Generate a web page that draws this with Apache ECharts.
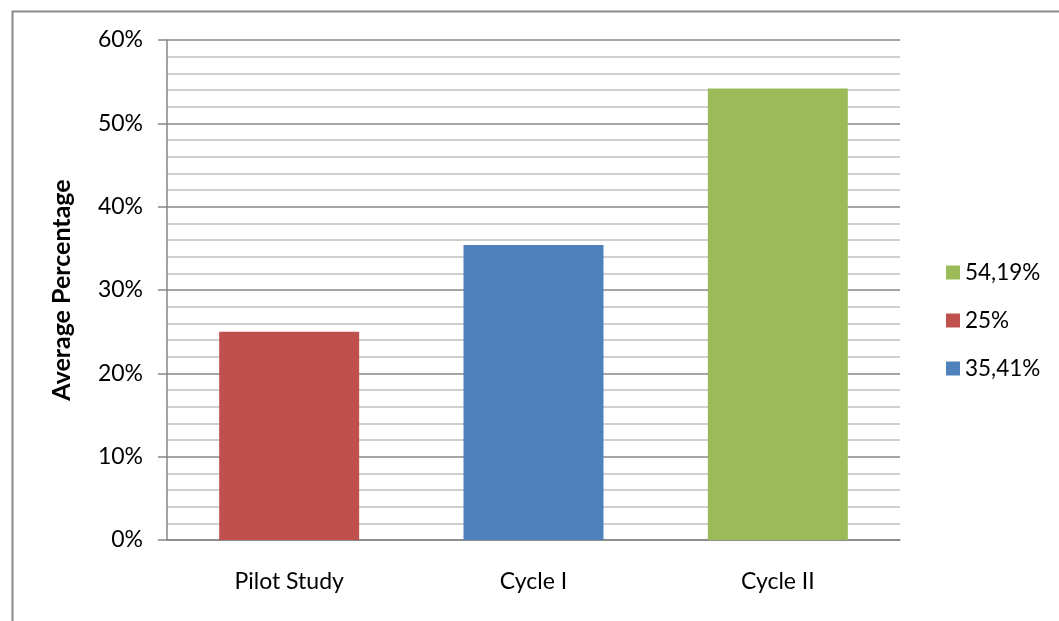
<!DOCTYPE html>
<html>
<head>
<meta charset="utf-8">
<script src="https://cdn.jsdelivr.net/npm/echarts@6/dist/echarts.min.js"></script>
<style>
html,body{margin:0;padding:0;background:#fff;}
#chart{width:1059px;height:621px;}
</style>
</head>
<body>
<div id="chart"></div>
<script>
const categories = ['Pilot Study', 'Cycle I', 'Cycle II'];
const seriesNames = ['54,19%', '25%', '35,41%'];
const pilotValues = [25, '-', '-'];
const cycle1Values = ['-', 35.41, '-'];
const cycle2Values = ['-', '-', 54.19];
const yTicks = [0, 10, 20, 30, 40, 50, 60];

const FONT = 'Lato, "Open Sans", sans-serif';
const chart = echarts.init(document.getElementById('chart'));
chart.setOption({
  animation: false,
  backgroundColor: '#fff',
  graphic: [{
    type: 'rect', left: 10, top: 9,
    shape: { width: 1100, height: 700 },
    style: { fill: 'none', stroke: '#888', lineWidth: 2 }
  }],
  grid: { left: 167, right: 159, top: 40, bottom: 81 },
  legend: {
    orient: 'vertical', left: 941, top: 256,
    data: seriesNames, icon: 'rect', itemWidth: 14, itemHeight: 14, itemGap: 25,
    textStyle: { fontFamily: FONT, fontSize: 22.5, color: '#000' }
  },
  xAxis: {
    type: 'category', data: categories,
    axisTick: { show: false },
    axisLine: { lineStyle: { color: '#868686', width: 1.5 } },
    axisLabel: { fontFamily: FONT, fontSize: 23, color: '#000', margin: 30 }
  },
  yAxis: {
    type: 'value', min: yTicks[0], max: yTicks[yTicks.length - 1], interval: 10,
    name: 'Average Percentage', nameLocation: 'middle', nameGap: 93, nameRotate: 90,
    nameTextStyle: { fontFamily: FONT, fontSize: 25, fontWeight: 'bold', color: '#000' },
    axisLine: { show: true, lineStyle: { color: '#868686', width: 1.5 } },
    axisTick: { show: true, inside: false, length: 9, lineStyle: { color: '#868686', width: 1.5 } },
    axisLabel: { fontFamily: FONT, fontSize: 23, color: '#000', margin: 24, formatter: '{value}%' },
    splitLine: { lineStyle: { color: '#868686', width: 1.5 } },
    minorTick: { show: false, splitNumber: 5 },
    minorSplitLine: { show: true, lineStyle: { color: '#c0c0c0', width: 1.5 } }
  },
  series: [
    { name: seriesNames[0], type: 'bar', data: cycle2Values, barWidth: 140, barGap: '-100%', itemStyle: { color: '#9BBB59' } },
    { name: seriesNames[1], type: 'bar', data: pilotValues, barWidth: 140, barGap: '-100%', itemStyle: { color: '#C0504D' } },
    { name: seriesNames[2], type: 'bar', data: cycle1Values, barWidth: 140, barGap: '-100%', itemStyle: { color: '#4F81BD' } }
  ]
});
</script>
</body>
</html>
